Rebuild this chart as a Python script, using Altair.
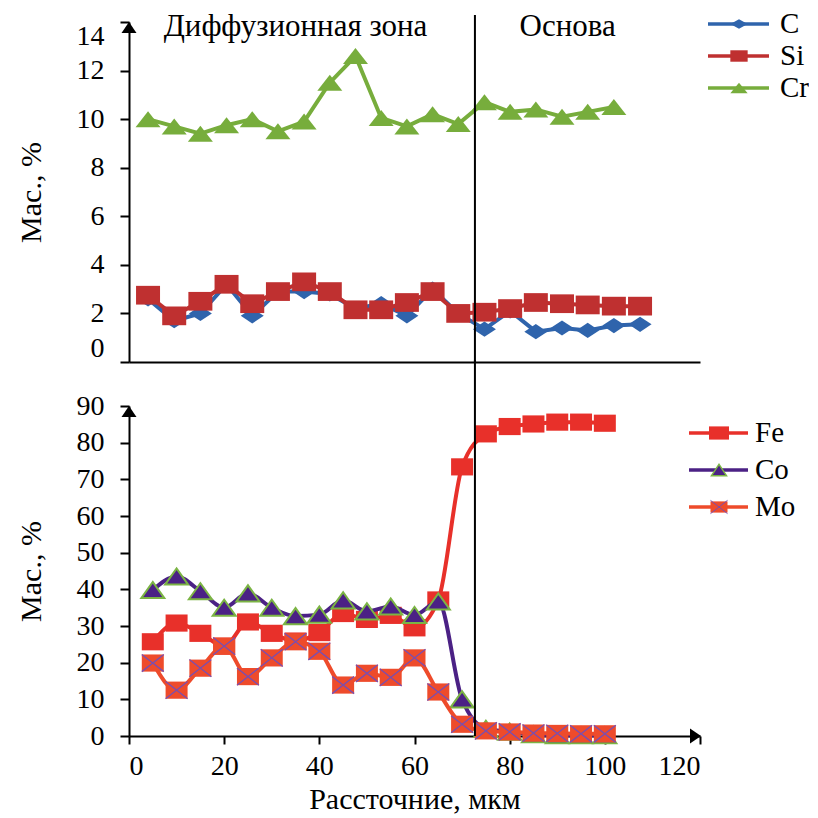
import altair as alt
import pandas as pd

FONT = "'Liberation Serif', 'Times New Roman', 'DejaVu Serif', serif"

# ---------------- data ----------------
top_x = [4.0, 9.5, 15.0, 20.5, 25.9, 31.3, 36.8, 42.2, 47.6, 53.0,
         58.4, 63.8, 69.2, 74.7, 80.1, 85.5, 91.0, 96.4, 101.9, 107.4]
c_vals = [2.6, 1.7, 2.0, 3.2, 1.9, 2.9, 2.9, 2.8, 2.2, 2.4,
          1.9, 3.0, 2.0, 1.35, 2.1, 1.25, 1.4, 1.3, 1.5, 1.55]
si_vals = [2.75, 1.9, 2.5, 3.2, 2.4, 2.9, 3.3, 2.9, 2.15, 2.15,
           2.45, 2.9, 2.0, 2.05, 2.2, 2.45, 2.4, 2.35, 2.3, 2.3]
cr_vals = [10.0, 9.7, 9.4, 9.75, 10.0, 9.5, 9.9, 11.5, 12.6, 10.05,
           9.7, 10.2, 9.8, 10.7, 10.3, 10.4, 10.1, 10.3, 10.5]

bot_x = [5, 10, 15, 20, 25, 30, 35, 40, 45, 50,
         55, 60, 65, 70, 75, 80, 85, 90, 95, 100]
fe_vals = [25.7, 30.8, 28.0, 24.5, 31.1, 28.0, 25.9, 28.2, 33.4, 31.8,
           32.9, 29.5, 37.1, 73.4, 82.4, 84.4, 85.1, 85.6, 85.6, 85.3]
co_vals = [39.8, 43.5, 39.5, 35.0, 38.9, 35.0, 32.7, 33.1, 37.0, 34.0,
           35.3, 33.0, 36.7, 10.0, 2.0, 1.2, 0.5, 0.2, 0.2, 0.2]
mo_vals = [19.9, 12.5, 18.5, 24.5, 16.2, 21.3, 25.7, 23.1, 13.9, 17.1,
           16.0, 21.3, 12.0, 3.2, 1.4, 1.1, 0.8, 0.7, 0.6, 0.6]

zone_labels = ["Диффузионная зона", "Основа"]
zone_x = [35.0, 92.2]
boundary_x = [72.7]

x_ticks = [0, 20, 40, 60, 80, 100, 120]
top_y_ticks = [0, 2, 4, 6, 8, 10, 12, 14]
bot_y_ticks = [0, 10, 20, 30, 40, 50, 60, 70, 80, 90]

top_names = ["C", "Si", "Cr"]
bot_names = ["Fe", "Co", "Mo"]

# ---------------- styling ----------------
W = 571
H_TOP = 340
H_BOT = 330

C_BLUE = "#2F64AC"
SI_RED = "#BF3030"
CR_GREEN = "#77AD3C"
FE_RED = "#E8302A"
CO_PURPLE = "#4B2185"
CO_EDGE = "#7BB444"
MO_RED = "#EE4B2B"
MO_X = "#7A4EB0"

DIAMOND = "M-1,0L0,-0.66L1,0L0,0.66Z"
RECT = "M-1,-0.78H1V0.78H-1Z"
TRI = "M-1,0.64L0,-0.64L1,0.64Z"
TRI_B = "M-1,0.7L0,-0.7L1,0.7Z"
XMARK = "M-1,-0.78L1,0.78M-1,0.78L1,-0.78"
L_DIAMOND = "M-1,0L0,-0.55L1,0L0,0.55Z"
L_RECT = "M-1,-0.66H1V0.66H-1Z"
L_TRI = "M-1,0.6L0,-0.6L1,0.6Z"
L_TRI_B = "M-1,0.75L0,-0.75L1,0.75Z"
UP_ARROW = "M0,-1L0.75,0.1L-0.75,0.1Z"
RIGHT_ARROW = "M1,0L-0.1,-0.75L-0.1,0.75Z"


def x_enc(show):
    if show:
        axis = alt.Axis(values=x_ticks, title="Рассточние, мкм", tickSize=8,
                        labelPadding=8, titlePadding=4)
    else:
        axis = alt.Axis(values=x_ticks, labels=False, ticks=False, title=None)
    return alt.X("x:Q", scale=alt.Scale(domain=[0, 120], nice=False, zero=False), axis=axis)


def y_enc(domain, ticks, flush):
    return alt.Y("y:Q", scale=alt.Scale(domain=domain, nice=False, zero=False),
                 axis=alt.Axis(values=ticks, title="Мас., %", tickSize=9,
                               labelPadding=16, titlePadding=30, labelFlush=flush))


def series(xs, ys, X, Y, color, interp, shape, size, fill, stroke, sw):
    df = pd.DataFrame({"x": xs, "y": ys})
    base = alt.Chart(df)
    line = base.mark_line(color=color, strokeWidth=4, interpolate=interp).encode(x=X, y=Y)
    pts = base.mark_point(shape=shape, size=size, filled=True, fill=fill, stroke=stroke,
                          strokeWidth=sw, opacity=1).encode(x=X, y=Y)
    return [line, pts]


def legend_entry(name, y, x0, x1, xm, xt, color, shape, size, fill, stroke, sw, fs):
    d = alt.Chart(pd.DataFrame({"name": [name]}))
    r = d.mark_rule(color=color, strokeWidth=3.5).encode(
        x=alt.value(x0), x2=alt.value(x1), y=alt.value(y))
    p = d.mark_point(shape=shape, size=size, filled=True, fill=fill, stroke=stroke,
                     strokeWidth=sw, opacity=1).encode(x=alt.value(xm), y=alt.value(y))
    t = d.mark_text(align="left", baseline="middle", font=FONT, fontSize=fs,
                    color="black").encode(x=alt.value(xt), y=alt.value(y), text="name:N")
    return [r, p, t]


def arrow_up():
    return alt.Chart(pd.DataFrame({"a": [0]})).mark_point(
        shape=UP_ARROW, size=400, filled=True, fill="black", strokeWidth=0, opacity=1
    ).encode(x=alt.value(0), y=alt.value(10))


# ---------------- top panel ----------------
Xt = x_enc(False)
Yt = y_enc([0, 14], top_y_ticks, True)

top_layers = []
top_layers += series(top_x, c_vals, Xt, Yt, C_BLUE, "linear", DIAMOND, 529, C_BLUE, C_BLUE, 0)
top_layers += series(top_x, si_vals, Xt, Yt, SI_RED, "linear", RECT, 576, SI_RED, SI_RED, 0)
top_layers += series(top_x[:len(cr_vals)], cr_vals, Xt, Yt, CR_GREEN, "linear", TRI, 625,
                     CR_GREEN, CR_GREEN, 0)

top_rule = alt.Chart(pd.DataFrame({"x": boundary_x})).mark_rule(
    color="black", strokeWidth=2).encode(x=Xt, y=alt.value(-7), y2=alt.value(H_TOP))
zones = alt.Chart(pd.DataFrame({"x": zone_x, "label": zone_labels})).mark_text(
    font=FONT, fontSize=31, color="black", baseline="alphabetic", align="center"
).encode(x=Xt, y=alt.value(14), text="label:N")

top_leg = []
top_cols = [C_BLUE, SI_RED, CR_GREEN]
top_shapes = [L_DIAMOND, L_RECT, L_TRI]
for i, (nm, col, shp) in enumerate(zip(top_names, top_cols, top_shapes)):
    top_leg += legend_entry(nm, 2 + 32 * i, 579, 640, 610, 651, col, shp, 300, col, col, 0, 29)

top = alt.layer(*top_layers, top_rule, zones, arrow_up(), *top_leg).properties(
    width=W, height=H_TOP)

# ---------------- bottom panel ----------------
Xb = x_enc(True)
Yb = y_enc([0, 90], bot_y_ticks, False)

bot_layers = []
bot_layers += series(bot_x, fe_vals, Xb, Yb, FE_RED, "monotone", RECT, 484, FE_RED, FE_RED, 0)
bot_layers += series(bot_x, co_vals, Xb, Yb, CO_PURPLE, "monotone", TRI_B, 529,
                     CO_PURPLE, CO_EDGE, 2)
bot_layers += series(bot_x, mo_vals, Xb, Yb, MO_RED, "monotone", RECT, 484, MO_RED, MO_RED, 0)
mo_x = alt.Chart(pd.DataFrame({"x": bot_x, "y": mo_vals})).mark_point(
    shape=XMARK, size=484, filled=False, stroke=MO_X, strokeWidth=1.3, opacity=1
).encode(x=Xb, y=Yb)

bot_rule = alt.Chart(pd.DataFrame({"x": boundary_x})).mark_rule(
    color="black", strokeWidth=2).encode(x=Xb, y=alt.value(-46), y2=alt.value(H_BOT))
x_arrow = alt.Chart(pd.DataFrame({"a": [0]})).mark_point(
    shape=RIGHT_ARROW, size=400, filled=True, fill="black", strokeWidth=0, opacity=1
).encode(x=alt.value(W - 9), y=alt.value(H_BOT))

bot_leg = []
bot_leg += legend_entry("Fe", 27, 560, 619, 590, 626, FE_RED, L_RECT, 400, FE_RED, FE_RED, 0, 29)
bot_leg += legend_entry("Co", 64, 560, 619, 590, 626, CO_PURPLE, L_TRI_B, 225, CO_PURPLE, CO_EDGE, 1.5, 29)
bot_leg += legend_entry("Mo", 101, 560, 619, 590, 626, MO_RED, L_RECT, 289, MO_RED, MO_RED, 0, 29)
mo_leg_x = alt.Chart(pd.DataFrame({"name": ["Mo"]})).mark_point(
    shape=XMARK, size=289, filled=False, stroke=MO_X, strokeWidth=1, opacity=1
).encode(x=alt.value(590), y=alt.value(101))

bottom = alt.layer(*bot_layers, mo_x, bot_rule, x_arrow, arrow_up(), *bot_leg, mo_leg_x).properties(
    width=W, height=H_BOT)

chart = alt.vconcat(top, bottom, spacing=44, bounds="flush").configure_axis(
    domainColor="black", domainWidth=2, tickColor="black", tickWidth=2,
    labelFont=FONT, labelFontSize=28, labelColor="black",
    titleFont=FONT, titleFontSize=30, titleFontWeight="normal", titleColor="black",
    grid=False
).configure_view(stroke=None).properties(
    padding={"left": 8, "top": 2, "right": 0, "bottom": 0}, background="white"
)

chart.save("out.html", embed_options={"renderer": "svg", "actions": False})
